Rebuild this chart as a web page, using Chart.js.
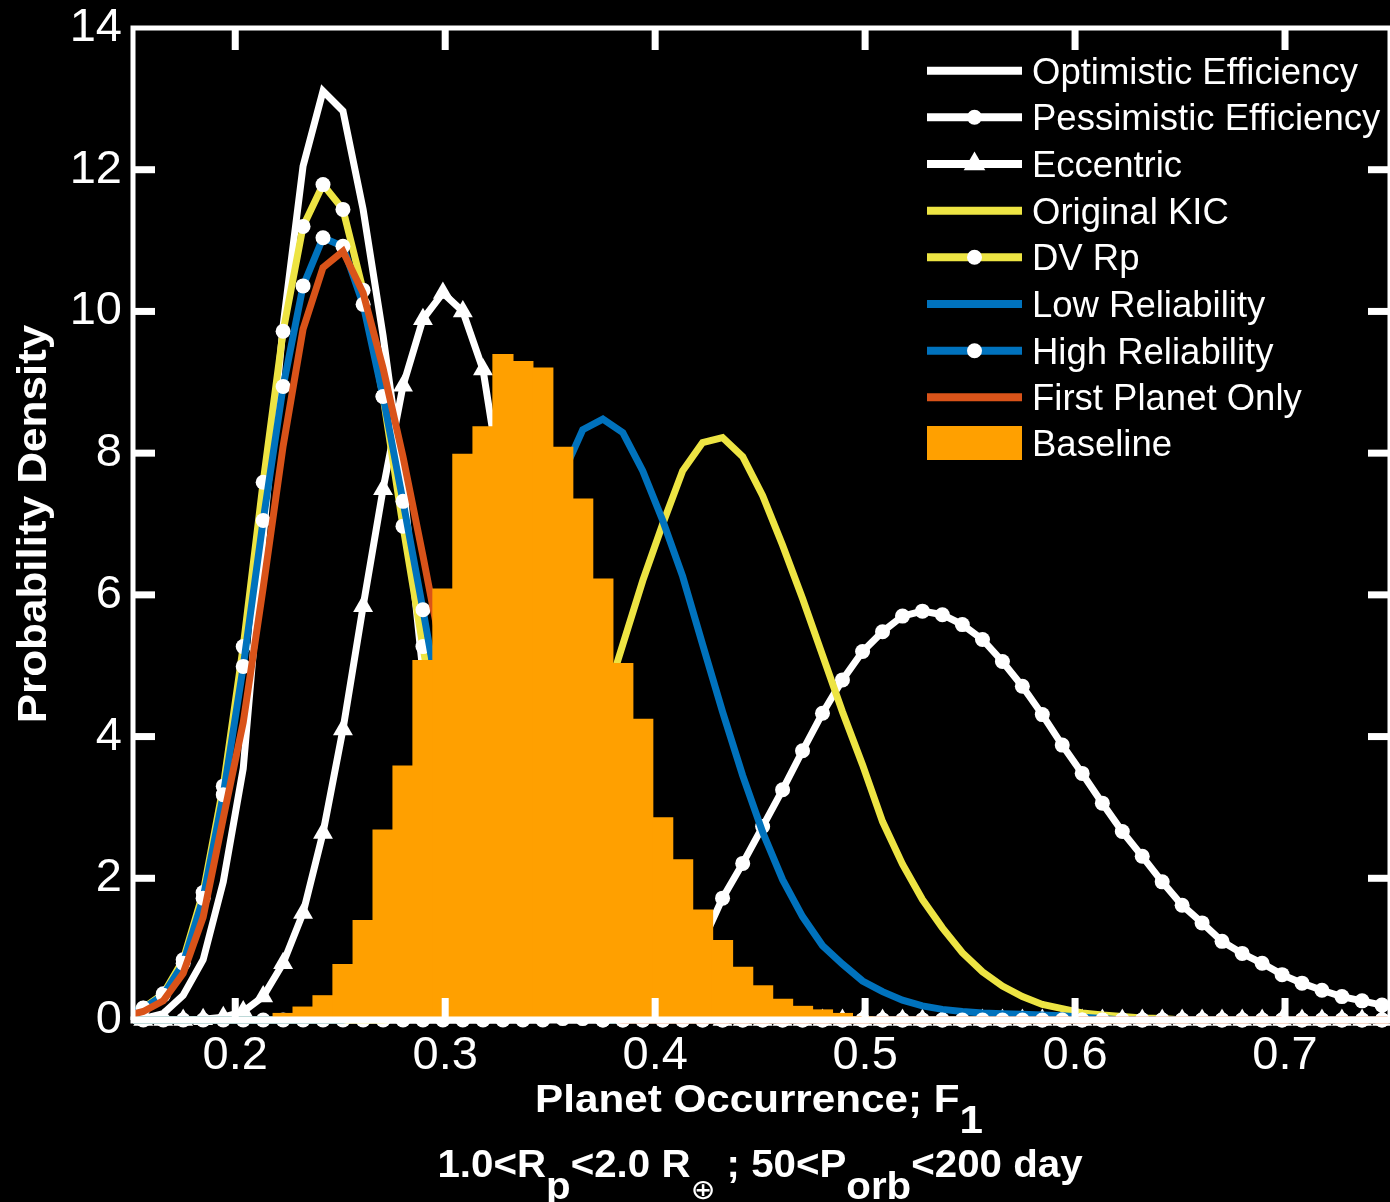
<!DOCTYPE html>
<html>
<head>
<meta charset="utf-8">
<script src="https://cdn.jsdelivr.net/npm/chart.js@4.4.1/dist/chart.umd.min.js"></script>
<style>
  html, body { margin: 0; padding: 0; background: #000; overflow: hidden; }
  canvas { display: block; }
</style>
</head>
<body>
<canvas id="occChart" width="1390" height="1202"></canvas>
<script>
// bin centres shared by every curve and by the histogram (F1)
const binCenters = [
  0.1467, 0.1562, 0.1657, 0.1752, 0.1847, 0.1943, 0.2038, 0.2133,
  0.2228, 0.2323, 0.2418, 0.2513, 0.2609, 0.2704, 0.2799, 0.2894,
  0.2989, 0.3084, 0.3180, 0.3275, 0.3370, 0.3465, 0.3560, 0.3655,
  0.3751, 0.3846, 0.3941, 0.4036, 0.4131, 0.4226, 0.4321, 0.4417,
  0.4512, 0.4607, 0.4702, 0.4797, 0.4892, 0.4988, 0.5083, 0.5178,
  0.5273, 0.5368, 0.5463, 0.5559, 0.5654, 0.5749, 0.5844, 0.5939,
  0.6034, 0.6130, 0.6225, 0.6320, 0.6415, 0.6510, 0.6605, 0.6700,
  0.6796, 0.6891, 0.6986, 0.7081, 0.7176, 0.7271, 0.7367, 0.7462,
  0.7557
];

const optimistic = [
  0, 0.02, 0.09, 0.35, 0.85, 1.95, 3.55, 6.8,
  9.8, 12.05, 13.11, 12.83, 11.44, 9.66, 7.6, 4.9,
  2.6, 1.2, 0.5, 0.2, 0.07, 0.02, 0, 0,
  0, 0, 0, 0, 0, 0, 0, 0,
  0, 0, 0, 0, 0, 0, 0, 0,
  0, 0, 0, 0, 0, 0, 0, 0,
  0, 0, 0, 0, 0, 0, 0, 0,
  0, 0, 0, 0, 0, 0, 0, 0,
  0
];

const pessimistic = [
  0, 0, 0, 0, 0, 0, 0, 0,
  0, 0, 0, 0, 0, 0, 0, 0,
  0, 0, 0, 0, 0, 0, 0.02, 0.04,
  0.08, 0.15, 0.27, 0.45, 0.72, 1.1, 1.72, 2.21,
  2.73, 3.25, 3.8, 4.33, 4.8, 5.2, 5.48, 5.7,
  5.77, 5.72, 5.58, 5.37, 5.06, 4.71, 4.31, 3.88,
  3.48, 3.06, 2.66, 2.31, 1.95, 1.62, 1.37, 1.11,
  0.94, 0.8, 0.64, 0.52, 0.42, 0.33, 0.27, 0.21,
  0.17
];

const eccentric = [
  0, 0, 0, 0, 0.01, 0.04, 0.12, 0.33,
  0.8, 1.51, 2.64, 4.1, 5.84, 7.49, 8.95, 9.89,
  10.26, 10.0, 9.18, 7.4, 6.0, 4.6, 3.3, 2.2,
  1.4, 0.8, 0.4, 0.2, 0.08, 0.03, 0, 0,
  0, 0, 0, 0, 0, 0, 0, 0,
  0, 0, 0, 0, 0, 0, 0, 0,
  0, 0, 0, 0, 0, 0, 0, 0,
  0, 0, 0, 0, 0, 0, 0, 0,
  0
];

const originalKIC = [
  0, 0, 0, 0, 0, 0, 0, 0,
  0, 0, 0, 0, 0, 0, 0.02, 0.06,
  0.13, 0.26, 0.48, 0.82, 1.3, 1.9, 2.65, 3.5,
  4.4, 5.3, 6.2, 7.0, 7.75, 8.15, 8.22, 7.95,
  7.4, 6.7, 5.95, 5.15, 4.35, 3.6, 2.8, 2.2,
  1.7, 1.3, 0.95, 0.68, 0.48, 0.33, 0.22, 0.16,
  0.1, 0.07, 0.05, 0.03, 0.02, 0, 0, 0,
  0, 0, 0, 0, 0, 0, 0, 0,
  0
];

const dvRp = [
  0.08, 0.17, 0.37, 0.85, 1.8, 3.3, 5.27, 7.59,
  9.72, 11.2, 11.79, 11.44, 10.3, 8.8, 6.97, 5.27,
  3.6, 2.3, 1.3, 0.7, 0.33, 0.14, 0.05, 0.02,
  0, 0, 0, 0, 0, 0, 0, 0,
  0, 0, 0, 0, 0, 0, 0, 0,
  0, 0, 0, 0, 0, 0, 0, 0,
  0, 0, 0, 0, 0, 0, 0, 0,
  0, 0, 0, 0, 0, 0, 0, 0,
  0
];

const lowReliability = [
  0, 0, 0, 0, 0, 0, 0, 0,
  0, 0, 0, 0, 0.04, 0.1, 0.25, 0.55,
  1.1, 1.9, 3.0, 4.3, 5.6, 6.8, 7.7, 8.33,
  8.48, 8.29, 7.75, 7.05, 6.26, 5.3, 4.35, 3.45,
  2.65, 1.98, 1.46, 1.05, 0.79, 0.55, 0.4, 0.28,
  0.2, 0.15, 0.12, 0.1, 0.09, 0.08, 0.07, 0.06,
  0.04, 0.02, 0, 0, 0, 0, 0, 0,
  0, 0, 0, 0, 0, 0, 0, 0,
  0
];

const highReliability = [
  0.07, 0.165, 0.35, 0.8, 1.72, 3.18, 4.99, 7.05,
  8.94, 10.36, 11.04, 10.92, 10.1, 8.8, 7.32, 5.79,
  4.2, 2.8, 1.7, 0.9, 0.45, 0.2, 0.08, 0.03,
  0, 0, 0, 0, 0, 0, 0, 0,
  0, 0, 0, 0, 0, 0, 0, 0,
  0, 0, 0, 0, 0, 0, 0, 0,
  0, 0, 0, 0, 0, 0, 0, 0,
  0, 0, 0, 0, 0, 0, 0, 0,
  0
];

const firstPlanet = [
  0.05, 0.12, 0.27, 0.66, 1.45, 2.85, 4.2, 6.1,
  8.1, 9.75, 10.62, 10.85, 10.26, 9.2, 7.95, 6.55,
  5.1, 3.6, 2.3, 1.3, 0.7, 0.35, 0.15, 0.06,
  0.02, 0, 0, 0, 0, 0, 0, 0,
  0, 0, 0, 0, 0, 0, 0, 0,
  0, 0, 0, 0, 0, 0, 0, 0,
  0, 0, 0, 0, 0, 0, 0, 0,
  0, 0, 0, 0, 0, 0, 0, 0,
  0
];

const baseline = [
  0, 0, 0, 0, 0, 0, 0, 0.03,
  0.10, 0.19, 0.35, 0.79, 1.41, 2.69, 3.59, 5.08,
  6.09, 7.99, 8.38, 9.40, 9.30, 9.21, 8.09, 7.36,
  6.23, 5.04, 4.25, 2.86, 2.27, 1.56, 1.13, 0.75,
  0.49, 0.30, 0.20, 0.15, 0.10, 0.05, 0.03, 0,
  0, 0, 0, 0, 0, 0, 0, 0,
  0, 0, 0, 0, 0, 0, 0, 0,
  0, 0, 0, 0, 0, 0, 0, 0,
  0
];

const xTicks = [0.2, 0.3, 0.4, 0.5, 0.6, 0.7];
const yTicks = [0, 2, 4, 6, 8, 10, 12, 14];

const WHITE = "#ffffff";
const YELLOW = "#ede443";
const BLUE = "#0072bd";
const RED = "#d95319";
const ORANGE = "#ffa000";
const FONT = "'Liberation Sans', Arial, Helvetica, sans-serif";

function pts(ys) {
  return binCenters.map((x, i) => ({ x: x, y: ys[i] }));
}

function curve(label, ys, color, marker, order) {
  return {
    type: "line",
    label: label,
    data: pts(ys),
    borderColor: color,
    backgroundColor: color,
    borderWidth: 7,
    tension: 0,
    fill: false,
    pointStyle: marker || "circle",
    pointRadius: marker === "triangle" ? 11.5 : (marker ? 7.5 : 0),
    pointHoverRadius: 0,
    pointBackgroundColor: WHITE,
    pointBorderColor: WHITE,
    pointBorderWidth: 0,
    order: order,
    clip: { left: 0, top: 0, right: 0, bottom: 16 }
  };
}

const bgPlugin = {
  id: "bg",
  beforeDraw(chart) {
    const c = chart.ctx;
    c.save();
    c.fillStyle = "#000";
    c.fillRect(0, 0, chart.width, chart.height);
    c.restore();
  }
};

// box and inward tick marks, drawn over the data like the original
const framePlugin = {
  id: "frame",
  afterDatasetsDraw(chart) {
    const c = chart.ctx;
    const a = chart.chartArea;
    const xs = chart.scales.x, ys = chart.scales.y;
    c.save();
    c.strokeStyle = WHITE;
    c.fillStyle = WHITE;
    c.lineWidth = 5;
    c.beginPath();
    c.moveTo(a.left, a.bottom);
    c.lineTo(a.left, a.top);
    c.lineTo(a.right, a.top);
    c.lineTo(a.right, a.bottom);
    c.stroke();
    c.lineWidth = 7;
    c.beginPath();
    c.moveTo(a.left - 2.5, a.bottom);
    c.lineTo(a.right, a.bottom);
    c.stroke();
    const len = 22, w = 7;
    xTicks.forEach(v => {
      const px = xs.getPixelForValue(v);
      c.fillRect(px - w / 2, a.bottom - len, w, len);
      c.fillRect(px - w / 2, a.top, w, len);
    });
    yTicks.forEach(v => {
      if (v === 0 || v === 14) return;
      const py = ys.getPixelForValue(v);
      c.fillRect(a.left, py - w / 2, len, w);
      c.fillRect(a.right - len, py - w / 2, len, w);
    });
    c.restore();
  }
};

// parts: [text, isSub, optional font override]
function drawRich(c, parts, cx, y, size, sx, subDy) {
  const base = "bold " + size + "px " + FONT;
  const widths = parts.map(p => {
    c.font = p[2] || base;
    return c.measureText(p[0]).width * sx;
  });
  const total = widths.reduce((s, v) => s + v, 0);
  let x = cx - total / 2;
  parts.forEach((p, i) => {
    c.save();
    c.font = p[2] || base;
    c.translate(x, y + (p[1] ? subDy : 0));
    c.scale(sx, 1);
    c.fillText(p[0], 0, 0);
    c.restore();
    x += widths[i];
  });
}

const textPlugin = {
  id: "texts",
  afterDraw(chart) {
    const c = chart.ctx;
    c.save();
    c.fillStyle = WHITE;
    c.textAlign = "left";
    c.textBaseline = "alphabetic";

    // axis titles
    drawRich(c, [["Planet Occurrence; F", 0], ["1", 1]], 759, 1112, 38, 1.11, 21);
    drawRich(c, [["1.0<R", 0], ["p", 1], ["<2.0 R", 0], ["\u2295", 1, "28px 'DejaVu Sans', sans-serif"],
      [" ; 50<P", 0], ["orb", 1], ["<200 day", 0]],
      760, 1177, 38, 1.06, 22);

    c.save();
    c.translate(46, 524);
    c.rotate(-Math.PI / 2);
    c.scale(1.1, 1);
    c.font = "bold 40px " + FONT;
    c.textAlign = "center";
    c.fillText("Probability Density", 0, 0);
    c.restore();

    // legend
    const lx0 = 927, lx1 = 1022, mx = 974.5, tx = 1032;
    const rowY = [70.7, 117.3, 164, 210.7, 257.3, 304, 350.7, 397.3, 443];
    c.font = "36.5px " + FONT;
    chart.data.datasets.forEach((ds, i) => {
      const y = rowY[i];
      if (ds.type === "bar") {
        c.fillStyle = ds.backgroundColor;
        c.fillRect(lx0, y - 17, lx1 - lx0, 34);
      } else {
        c.strokeStyle = ds.borderColor;
        c.lineWidth = 8;
        c.beginPath();
        c.moveTo(lx0, y);
        c.lineTo(lx1, y);
        c.stroke();
        if (ds.pointRadius > 0) {
          c.fillStyle = WHITE;
          c.beginPath();
          if (ds.pointStyle === "triangle") {
            const r = 12.5;
            c.moveTo(mx, y - r);
            c.lineTo(mx + r * Math.sin(2 * Math.PI / 3), y + r / 2);
            c.lineTo(mx - r * Math.sin(2 * Math.PI / 3), y + r / 2);
            c.closePath();
          } else {
            c.arc(mx, y, 7.5, 0, Math.PI * 2);
          }
          c.fill();
        }
      }
      c.fillStyle = WHITE;
      c.fillText(ds.label, tx, y + 13);
    });
    c.restore();
  }
};

const ctx = document.getElementById("occChart");

const chart = new Chart(ctx, {
  type: "line",
  data: {
    datasets: [
      curve("Optimistic Efficiency", optimistic, WHITE, null, 8),
      curve("Pessimistic Efficiency", pessimistic, WHITE, "circle", 7),
      curve("Eccentric", eccentric, WHITE, "triangle", 6),
      curve("Original KIC", originalKIC, YELLOW, null, 5),
      curve("DV Rp", dvRp, YELLOW, "circle", 4),
      curve("Low Reliability", lowReliability, BLUE, null, 3),
      curve("High Reliability", highReliability, BLUE, "circle", 2),
      curve("First Planet Only", firstPlanet, RED, null, 1),
      {
        type: "bar",
        label: "Baseline",
        data: pts(baseline),
        backgroundColor: ORANGE,
        borderWidth: 0,
        barPercentage: 1.06,
        categoryPercentage: 1,
        grouped: false,
        order: 0
      }
    ]
  },
  options: {
    responsive: false,
    animation: false,
    devicePixelRatio: 1,
    layout: { autoPadding: false, padding: { top: 28, right: -2, left: 0, bottom: 0 } },
    plugins: {
      legend: { display: false },
      tooltip: { enabled: false }
    },
    scales: {
      x: {
        type: "linear",
        min: 0.1513,
        max: 0.75,
        offset: false,
        grid: { display: false, drawTicks: false },
        border: { display: false },
        afterBuildTicks: s => { s.ticks = xTicks.map(v => ({ value: v })); },
        afterFit: s => { s.height = 182; s.paddingLeft = 0; s.paddingRight = 0; },
        ticks: {
          color: WHITE,
          padding: 8,
          maxRotation: 0,
          autoSkip: false,
          font: { family: FONT, size: 47 },
          callback: v => v.toFixed(1)
        }
      },
      y: {
        type: "linear",
        min: 0,
        max: 14,
        grid: { display: false, drawTicks: false },
        border: { display: false },
        afterBuildTicks: s => { s.ticks = yTicks.map(v => ({ value: v })); },
        afterFit: s => { s.width = 133; s.paddingTop = 0; s.paddingBottom = 0; },
        ticks: {
          color: WHITE,
          padding: 11,
          font: { family: FONT, size: 47 },
          callback: v => String(v)
        }
      }
    }
  },
  plugins: [bgPlugin, framePlugin, textPlugin]
});
</script>
</body>
</html>
